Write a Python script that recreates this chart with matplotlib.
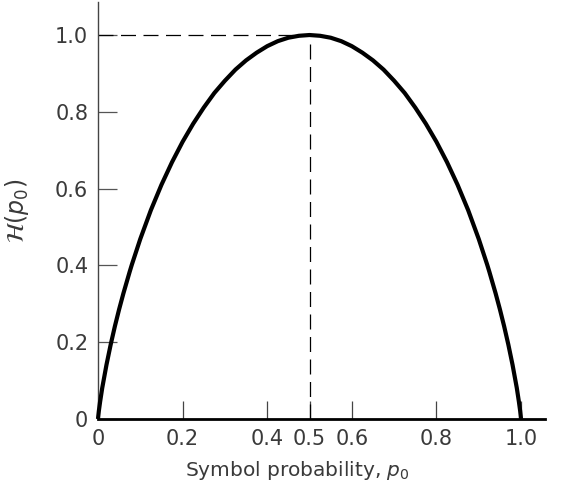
import numpy as np
import matplotlib
matplotlib.use("Agg")
import matplotlib.pyplot as plt

# entropy curve (left half, curve is symmetric about 0.5)
p_left = [0.0, 0.0005, 0.002, 0.005, 0.01, 0.02, 0.03, 0.04, 0.05, 0.06,
          0.075, 0.08, 0.1, 0.125, 0.15, 0.175, 0.2, 0.225, 0.25, 0.275,
          0.3, 0.325, 0.35, 0.375, 0.4, 0.425, 0.45, 0.475, 0.5]
h_left = [0.0, 0.006, 0.021, 0.045, 0.081, 0.141, 0.194, 0.242, 0.286, 0.327,
          0.384, 0.402, 0.469, 0.544, 0.610, 0.669, 0.722, 0.769, 0.811, 0.849,
          0.881, 0.910, 0.934, 0.954, 0.971, 0.984, 0.993, 0.998, 1.0]

p0 = np.concatenate([p_left, 1 - np.array(p_left[-2::-1])])
H = np.concatenate([h_left, h_left[-2::-1]])

x_ticks = [0, 0.2, 0.4, 0.5, 0.6, 0.8, 1.0]
x_labels = ["0", "0.2", "0.4", "0.5", "0.6", "0.8", "1.0"]
y_ticks = [0, 0.2, 0.4, 0.6, 0.8, 1.0]
y_labels = ["0", "0.2", "0.4", "0.6", "0.8", "1.0"]

fig = plt.figure(figsize=(5.61, 4.88), dpi=100)
ax = fig.add_axes([0.1747, 0.1414, 0.797, 0.8545])

ax.plot(p0, H, color="black", lw=3, solid_capstyle="butt", clip_on=False, zorder=3)

# dashed guides to the peak
ax.plot([0, 0.5], [1.0, 1.0], color="black", lw=0.9, dashes=(12, 6))
ax.plot([0.5, 0.5], [0, 1.0], color="black", lw=0.9, dashes=(12, 6))

ax.set_xlim(0, 1.057)
ax.set_ylim(0, 1.086)

ax.spines["top"].set_visible(False)
ax.spines["right"].set_visible(False)
ax.spines["bottom"].set_linewidth(2)
ax.spines["bottom"].set_color("black")
ax.spines["left"].set_linewidth(1)
ax.spines["left"].set_color("#444444")

ax.set_xticks(x_ticks)
ax.set_xticklabels(x_labels)
ax.set_yticks(y_ticks)
ax.set_yticklabels(y_labels)
ax.tick_params(axis="x", direction="in", length=13, width=0.9, color="#444444",
               labelsize=15, labelcolor="#3a3a3a", pad=7)
ax.tick_params(axis="y", direction="in", length=14, width=0.9, color="#555555",
               labelsize=15, labelcolor="#3a3a3a", pad=7)

ax.set_xlabel("Symbol probability, $p_0$", fontsize=14.5, color="#3a3a3a")
ax.xaxis.set_label_coords(0.445, -0.095)
ax.set_ylabel(r"$\mathcal{H}(p_0)$", fontsize=17, color="#3a3a3a")
ax.yaxis.set_label_coords(-0.15, 0.5)

fig.savefig("out.png", dpi=100)
